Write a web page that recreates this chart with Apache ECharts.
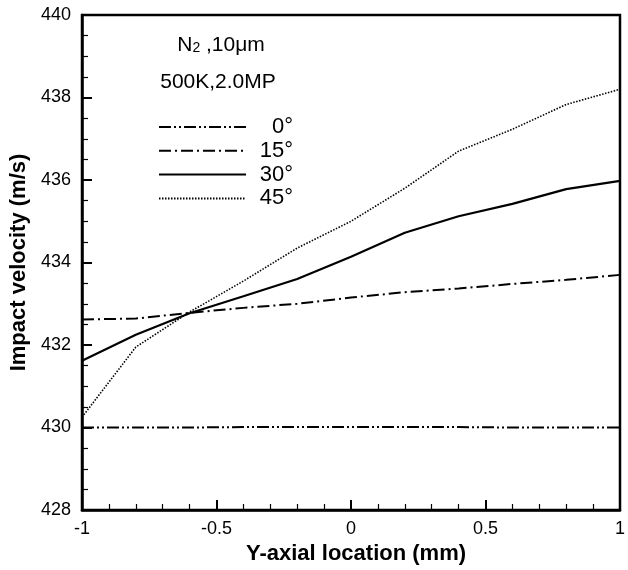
<!DOCTYPE html>
<html>
<head>
<meta charset="utf-8">
<script src="https://cdn.jsdelivr.net/npm/echarts@6/dist/echarts.min.js"></script>
<style>html,body{margin:0;padding:0;background:#fff}#c{width:628px;height:570px}</style>
</head>
<body>
<div id="c"></div>
<script>
var xValues = [-1, -0.8, -0.6, -0.4, -0.2, 0, 0.2, 0.4, 0.6, 0.8, 1];
var seriesNames = ['0°', '15°', '30°', '45°'];
var v0  = [430.0, 430.0, 430.0, 430.01, 430.01, 430.01, 430.01, 430.01, 430.0, 430.0, 430.0];
var v15 = [432.62, 432.64, 432.78, 432.9, 433.0, 433.15, 433.28, 433.37, 433.48, 433.58, 433.7];
var v30 = [431.62, 432.25, 432.77, 433.18, 433.6, 434.14, 434.72, 435.12, 435.42, 435.78, 435.98];
var v45 = [430.25, 431.95, 432.8, 433.55, 434.35, 435.0, 435.8, 436.7, 437.23, 437.83, 438.2];
var yTicks = [428, 430, 432, 434, 436, 438, 440];
var xTicks = [-1, -0.5, 0, 0.5, 1];

function pairs(vals) { return xValues.map(function (x, i) { return [x, vals[i]]; }); }

var chart = echarts.init(document.getElementById('c'), null, {renderer: 'canvas'});
var font = 'Liberation Sans, Arial, sans-serif';
var styles = [
  {type: [12, 3, 2, 3, 2, 3], width: 2},
  {type: [12, 4, 2, 4], width: 2},
  {type: 'solid', width: 2.2},
  {type: [1.5, 1.5], width: 1.6}
];
var data = [v0, v15, v30, v45];

chart.setOption({
  animation: false,
  backgroundColor: '#fff',
  grid: {left: 82, right: 2, top: 15, bottom: 55, show: true, borderColor: '#000', borderWidth: 2.5},
  xAxis: {
    type: 'value', min: -1, max: 1, interval: 0.5,
    name: 'Y-axial location (mm)', nameLocation: 'middle', nameGap: 33,
    nameTextStyle: {fontFamily: font, fontWeight: 'bold', fontSize: 22, color: '#000', padding: [0, 0, 0, 10]},
    axisLine: {show: true, onZero: false, lineStyle: {color: '#000', width: 2.5}},
    axisTick: {show: true, inside: true, length: 10, lineStyle: {color: '#000', width: 2}},
    minorTick: {show: true, splitNumber: 5, length: 6, lineStyle: {color: '#000', width: 1.2}},
    axisLabel: {fontFamily: font, fontSize: 18, color: '#000', margin: 10,
      formatter: function (v) { return xTicks.indexOf(v) >= 0 ? String(v) : ''; }},
    splitLine: {show: false}
  },
  yAxis: {
    type: 'value', min: 428, max: 440, interval: 2,
    name: 'Impact velocity (m/s)', nameLocation: 'middle', nameGap: 52, nameRotate: 90,
    nameTextStyle: {fontFamily: font, fontWeight: 'bold', fontSize: 22, color: '#000'},
    axisLine: {show: true, onZero: false, lineStyle: {color: '#000', width: 2.5}},
    axisTick: {show: true, inside: true, length: 10, lineStyle: {color: '#000', width: 2}},
    minorTick: {show: true, splitNumber: 4, length: 6, lineStyle: {color: '#000', width: 1.2}},
    axisLabel: {fontFamily: font, fontSize: 18, color: '#000', margin: 11,
      formatter: function (v) { return yTicks.indexOf(v) >= 0 ? String(v) : ''; }},
    splitLine: {show: false}
  },
  legend: {
    orient: 'vertical', left: 153, top: 111, itemWidth: 87, itemHeight: 14, itemGap: 1.8,
    data: seriesNames,
    formatter: '{r|{name}}',
    textStyle: {fontFamily: font, fontSize: 22, color: '#000', lineHeight: 22,
      rich: {r: {width: 42, align: 'right', fontFamily: font, fontSize: 22, lineHeight: 22, color: '#000'}}},
    itemStyle: {opacity: 0}
  },
  graphic: [
    {type: 'text', x: 221, y: 45, style: {
      text: '{a|N}{s|2}{a| ,10μm}', align: 'center', verticalAlign: 'middle',
      rich: {a: {fontFamily: font, fontSize: 21, fill: '#000'}, s: {fontFamily: font, fontSize: 14, fill: '#000', verticalAlign: 'bottom', padding: [7, 0, 0, 0]}}
    }},
    {type: 'text', x: 218, y: 82, style: {text: '500K,2.0MP', font: '21px ' + font, fill: '#000', align: 'center', verticalAlign: 'middle'}}
  ],
  series: seriesNames.map(function (n, i) {
    return {
      name: n, type: 'line', data: pairs(data[i]), symbol: 'none', smooth: false,
      lineStyle: {color: '#000', width: styles[i].width, type: styles[i].type},
      itemStyle: {color: '#000'}
    };
  })
});
</script>
</body>
</html>
